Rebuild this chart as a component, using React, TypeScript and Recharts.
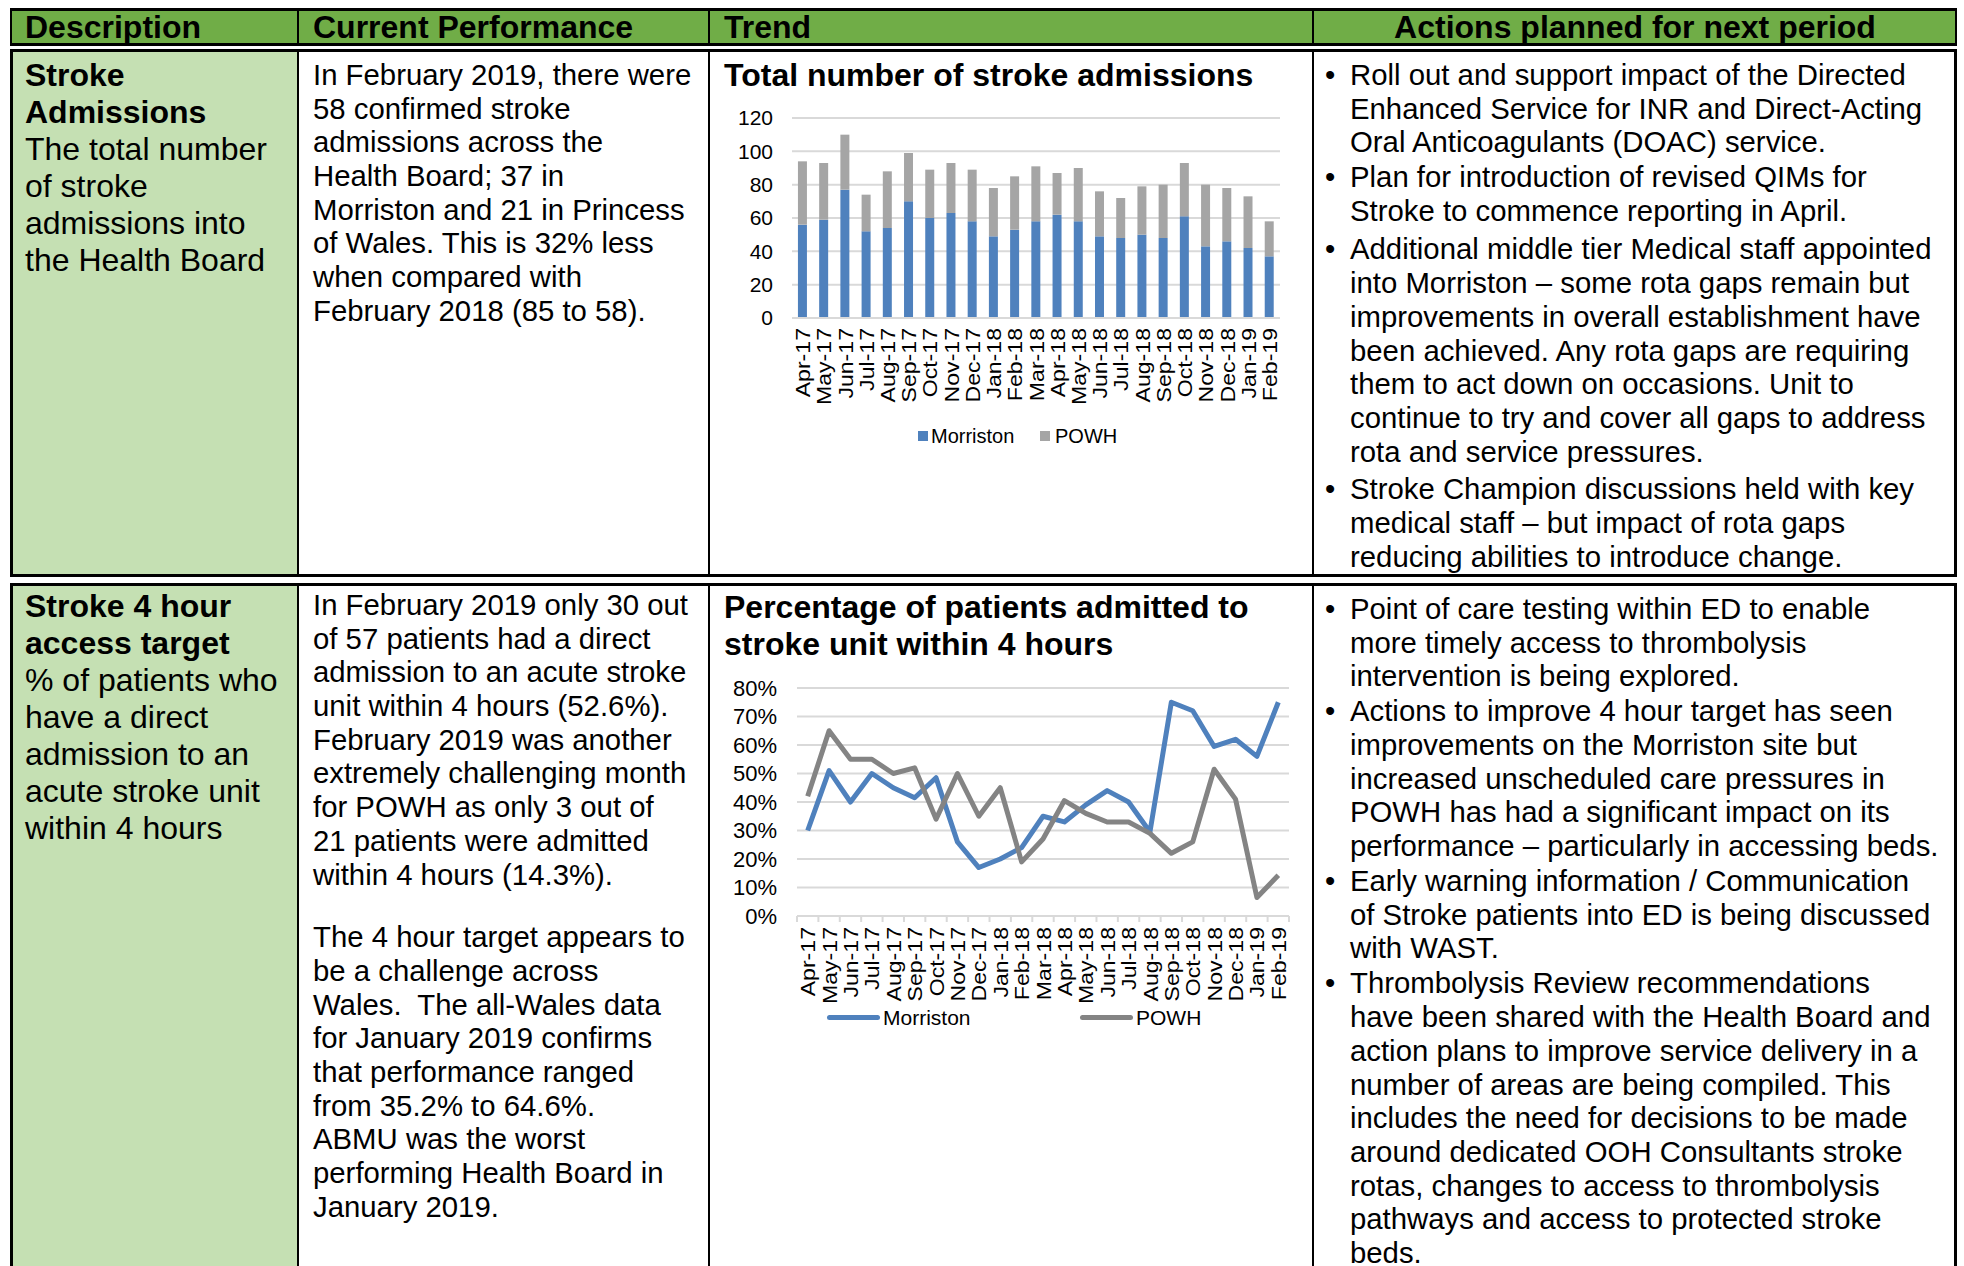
import { BarChart, Bar, LineChart, Line, XAxis, YAxis, CartesianGrid, Legend } from 'recharts';

const FONT = '"Liberation Sans", Arial, sans-serif';

// months shown on both trend charts
const months = ['Apr-17', 'May-17', 'Jun-17', 'Jul-17', 'Aug-17', 'Sep-17', 'Oct-17', 'Nov-17', 'Dec-17', 'Jan-18', 'Feb-18', 'Mar-18', 'Apr-18', 'May-18', 'Jun-18', 'Jul-18', 'Aug-18', 'Sep-18', 'Oct-18', 'Nov-18', 'Dec-18', 'Jan-19', 'Feb-19'];

// stroke admissions (count)
const admMorriston = [56, 59, 77, 52, 54, 70, 60, 63, 58, 49, 53, 58, 62, 58, 49, 48, 50, 48, 61, 43, 46, 42, 37];
const admPowh = [38, 34, 33, 22, 34, 29, 29, 30, 31, 29, 32, 33, 25, 32, 27, 24, 29, 32, 32, 37, 32, 31, 21];
const admTicks = [0, 20, 40, 60, 80, 100, 120];

// % admitted to stroke unit within 4 hours
const pctMorriston = [30, 51, 40, 50, 45, 41.5, 48.5, 26, 17, 20, 24, 35, 33, 39, 44, 40, 29.5, 75, 72, 59.5, 62, 56, 75];
const pctPowh = [42, 65, 55, 55, 50, 52, 34, 50, 35, 45, 19, 27, 40.5, 36, 33, 33, 29, 22, 26, 51.5, 41, 6.5, 14.3];
const pctTicks = [0, 10, 20, 30, 40, 50, 60, 70, 80];

const BLUE = '#4F81BD';
const GREY_BAR = '#A5A5A5';
const GREY_LINE = '#848484';
const GRID = '#D9D9D9';

const admData = months.map((m, i) => ({ month: m, Morriston: admMorriston[i], POWH: admPowh[i] }));
const pctData = months.map((m, i) => ({ month: m, Morriston: pctMorriston[i], POWH: pctPowh[i] }));

const BAND2 = (1289 - 797) / months.length;

// rotated month label, slightly stretched along its length like the pasted Excel chart
function MonthLabel({ x, y, value }: { x: number; y: number; value: string }) {
  return (
    <text x={0} y={0} transform={`translate(${x},${y}) scale(1,1.1) rotate(-90)`} textAnchor="end" dy="0.36em"
      fontSize={21} fill="#000" fontFamily={FONT}>
      {value}
    </text>
  );
}

function MonthTick({ x, y, payload }: any) {
  return <MonthLabel x={x} y={y} value={payload.value} />;
}

function MonthTickMarks(props: any) {
  const { x, y, payload, index } = props;
  const half = BAND2 / 2;
  const top = y - 11;
  return (
    <g>
      <line x1={x - half} x2={x - half} y1={top} y2={top + 6} stroke={GRID} strokeWidth={2} />
      {index === months.length - 1 && (
        <line x1={x + half} x2={x + half} y1={top} y2={top + 6} stroke={GRID} strokeWidth={2} />
      )}
      <MonthLabel x={x} y={y} value={payload.value} />
    </g>
  );
}

function BarLegend() {
  const txt = { position: 'absolute' as const, top: 0, fontSize: 20, lineHeight: '24px', fontFamily: FONT, color: '#000' };
  const sq = { position: 'absolute' as const, top: 7, width: 10, height: 10 };
  return (
    <div style={{ position: 'relative', width: 580, height: 24 }}>
      <div style={{ ...sq, left: 198, background: BLUE }} />
      <span style={{ ...txt, left: 211 }}>Morriston</span>
      <div style={{ ...sq, left: 320, background: GREY_BAR }} />
      <span style={{ ...txt, left: 335 }}>POWH</span>
    </div>
  );
}

function LineLegend() {
  const txt = { position: 'absolute' as const, top: 0, fontSize: 21, lineHeight: '24px', fontFamily: FONT, color: '#000' };
  const ln = { position: 'absolute' as const, top: 9, width: 53, height: 5, borderRadius: 2.5 };
  return (
    <div style={{ position: 'relative', width: 580, height: 24 }}>
      <div style={{ ...ln, left: 107, background: BLUE }} />
      <span style={{ ...txt, left: 163 }}>Morriston</span>
      <div style={{ ...ln, left: 360, background: GREY_LINE }} />
      <span style={{ ...txt, left: 416 }}>POWH</span>
    </div>
  );
}

function AdmissionsChart() {
  return (
    <BarChart width={580} height={360} data={admData} barCategoryGap="28%"
      margin={{ top: 18, right: 20, left: 0, bottom: 0 }}>
      <CartesianGrid vertical={false} stroke={GRID} strokeWidth={2} />
      <XAxis dataKey="month" interval={0} height={142} tick={<MonthTick />} tickSize={0} tickMargin={10}
        axisLine={{ stroke: GRID, strokeWidth: 2 }} />
      <YAxis domain={[0, 120]} ticks={admTicks} interval={0} width={72} tickSize={0} tickMargin={19} axisLine={false}
        tick={{ fontSize: 21, fill: '#000', fontFamily: FONT }} />
      <Legend layout="horizontal" verticalAlign="middle" align="center"
        wrapperStyle={{ top: 324, left: 0, width: 580 }} content={() => <BarLegend />} />
      <Bar dataKey="Morriston" stackId="a" fill={BLUE} isAnimationActive={false} />
      <Bar dataKey="POWH" stackId="a" fill={GREY_BAR} isAnimationActive={false} />
    </BarChart>
  );
}

function AccessChart() {
  return (
    <LineChart width={580} height={380} data={pctData}
      margin={{ top: 28, right: 11, left: 0, bottom: 0 }}>
      <CartesianGrid vertical={false} stroke={GRID} strokeWidth={2} />
      <XAxis dataKey="month" interval={0} height={124} tick={<MonthTickMarks />} tickSize={0} tickMargin={11}
        padding={{ left: BAND2 / 2, right: BAND2 / 2 }}
        axisLine={{ stroke: GRID, strokeWidth: 2 }} />
      <YAxis domain={[0, 80]} ticks={pctTicks} interval={0} width={77} tickSize={0} tickMargin={20} axisLine={false}
        tickFormatter={(v: number) => `${v}%`}
        tick={{ fontSize: 22, fill: '#000', fontFamily: FONT }} />
      <Legend layout="horizontal" verticalAlign="middle" align="center"
        wrapperStyle={{ top: 346, left: 0, width: 580 }} content={() => <LineLegend />} />
      <Line type="linear" dataKey="Morriston" stroke={BLUE} strokeWidth={5} dot={false}
        strokeLinejoin="round" isAnimationActive={false} />
      <Line type="linear" dataKey="POWH" stroke={GREY_LINE} strokeWidth={5} dot={false}
        strokeLinejoin="round" isAnimationActive={false} />
    </LineChart>
  );
}

const abs = (left: number, top: number, extra: any = {}) => ({ position: 'absolute' as const, left, top, ...extra });

function Lines({ lines, bold = 0, size, lh }: { lines: string[]; bold?: number; size: number; lh: number }) {
  return (
    <>
      {lines.map((l, i) => (
        <div key={i} style={{ fontSize: size, lineHeight: `${lh}px`, height: lh, fontWeight: i < bold ? 'bold' : 'normal', whiteSpace: 'pre' }}>{l}</div>
      ))}
    </>
  );
}

function Bullets({ items, gaps }: { items: string[][]; gaps: number[] }) {
  return (
    <>
      {items.map((it, i) => (
        <div key={i} style={{ position: 'relative', marginTop: i === 0 ? 0 : gaps[i - 1] }}>
          <span style={{ position: 'absolute', left: -25, top: 0, fontSize: 29.33, lineHeight: '33.7px' }}>•</span>
          <Lines lines={it} size={29.33} lh={33.7} />
        </div>
      ))}
    </>
  );
}

const COLS = [10, 298, 709, 1313, 1957];

function RowFrame({ top, bottom }: { top: number; bottom: number }) {
  return (
    <>
      <div style={abs(COLS[0], top, { width: COLS[1] - COLS[0], height: bottom - top, background: '#C5E0B3' })} />
      <div style={abs(COLS[0], top, { width: COLS[4] - COLS[0], height: bottom - top, border: '3px solid #000', boxSizing: 'border-box' })} />
      {[COLS[1], COLS[2], COLS[3]].map((x) => (
        <div key={x} style={abs(x - 1, top, { width: 2, height: bottom - top, background: '#000' })} />
      ))}
    </>
  );
}

export default function App() {
  return (
    <div style={{ position: 'absolute', left: 0, top: 0, width: 1964, height: 1266, overflow: 'hidden', background: '#fff', fontFamily: FONT, color: '#000' }}>
      {/* header */}
      <div style={abs(COLS[0], 8, { width: COLS[4] - COLS[0], height: 38, background: '#70AD47', borderTop: '3px solid #000', borderBottom: '3px solid #000', borderLeft: '2px solid #000', borderRight: '2px solid #000', boxSizing: 'border-box' })} />
      {[COLS[1], COLS[2], COLS[3]].map((x) => (
        <div key={x} style={abs(x - 1, 8, { width: 2, height: 38, background: '#000' })} />
      ))}
      <div style={abs(25, 8, { fontSize: 32, fontWeight: 'bold', lineHeight: '38px' })}>Description</div>
      <div style={abs(313, 8, { fontSize: 32, fontWeight: 'bold', lineHeight: '38px' })}>Current Performance</div>
      <div style={abs(724, 8, { fontSize: 32, fontWeight: 'bold', lineHeight: '38px' })}>Trend</div>
      <div style={abs(COLS[3], 8, { width: COLS[4] - COLS[3], textAlign: 'center', fontSize: 32, fontWeight: 'bold', lineHeight: '38px' })}>Actions planned for next period</div>

      {/* row 1 */}
      <RowFrame top={49} bottom={577} />
      <div style={abs(25, 57)}>
        <Lines bold={2} size={32} lh={37} lines={['Stroke', 'Admissions', 'The total number', 'of stroke', 'admissions into', 'the Health Board']} />
      </div>
      <div style={abs(313, 58)}>
        <Lines size={29.33} lh={33.7} lines={['In February 2019, there were', '58 confirmed stroke', 'admissions across the', 'Health Board; 37 in', 'Morriston and 21 in Princess', 'of Wales. This is 32% less', 'when compared with', 'February 2018 (85 to 58).']} />
      </div>
      <div style={abs(724, 57, { fontSize: 32, fontWeight: 'bold', lineHeight: '37px', whiteSpace: 'nowrap' })}>Total number of stroke admissions</div>
      <div style={abs(720, 100)}>
        <AdmissionsChart />
      </div>
      <div style={abs(1350, 58)}>
        <Bullets gaps={[1, 5, 4]} items={[
          ['Roll out and support impact of the Directed', 'Enhanced Service for INR and Direct-Acting', 'Oral Anticoagulants (DOAC) service.'],
          ['Plan for introduction of revised QIMs for', 'Stroke to commence reporting in April.'],
          ['Additional middle tier Medical staff appointed', 'into Morriston \u2013 some rota gaps remain but', 'improvements in overall establishment have', 'been achieved. Any rota gaps are requiring', 'them to act down on occasions. Unit to', 'continue to try and cover all gaps to address', 'rota and service pressures.'],
          ['Stroke Champion discussions held with key', 'medical staff \u2013 but impact of rota gaps', 'reducing abilities to introduce change.'],
        ]} />
      </div>

      {/* row 2 */}
      <RowFrame top={583} bottom={1300} />
      <div style={abs(25, 588)}>
        <Lines bold={2} size={32} lh={37} lines={['Stroke 4 hour', 'access target', '% of patients who', 'have a direct', 'admission to an', 'acute stroke unit', 'within 4 hours']} />
      </div>
      <div style={abs(313, 588)}>
        <Lines size={29.33} lh={33.7} lines={['In February 2019 only 30 out', 'of 57 patients had a direct', 'admission to an acute stroke', 'unit within 4 hours (52.6%).', 'February 2019 was another', 'extremely challenging month', 'for POWH as only 3 out of', '21 patients were admitted', 'within 4 hours (14.3%).']} />
        <div style={{ height: 29 }} />
        <Lines size={29.33} lh={33.7} lines={['The 4 hour target appears to', 'be a challenge across', 'Wales.  The all-Wales data', 'for January 2019 confirms', 'that performance ranged', 'from 35.2% to 64.6%.', 'ABMU was the worst', 'performing Health Board in', 'January 2019.']} />
      </div>
      <div style={abs(724, 589, { fontSize: 32, fontWeight: 'bold', lineHeight: '36.5px', whiteSpace: 'nowrap' })}>
        Percentage of patients admitted to<br />stroke unit within 4 hours
      </div>
      <div style={abs(720, 660)}>
        <AccessChart />
      </div>
      <div style={abs(1350, 592)}>
        <Bullets gaps={[1.3, 1.3, 1.3]} items={[
          ['Point of care testing within ED to enable', 'more timely access to thrombolysis', 'intervention is being explored.'],
          ['Actions to improve 4 hour target has seen', 'improvements on the Morriston site but', 'increased unscheduled care pressures in', 'POWH has had a significant impact on its', 'performance \u2013 particularly in accessing beds.'],
          ['Early warning information / Communication', 'of Stroke patients into ED is being discussed', 'with WAST.'],
          ['Thrombolysis Review recommendations', 'have been shared with the Health Board and', 'action plans to improve service delivery in a', 'number of areas are being compiled. This', 'includes the need for decisions to be made', 'around dedicated OOH Consultants stroke', 'rotas, changes to access to thrombolysis', 'pathways and access to protected stroke', 'beds.'],
        ]} />
      </div>
    </div>
  );
}
